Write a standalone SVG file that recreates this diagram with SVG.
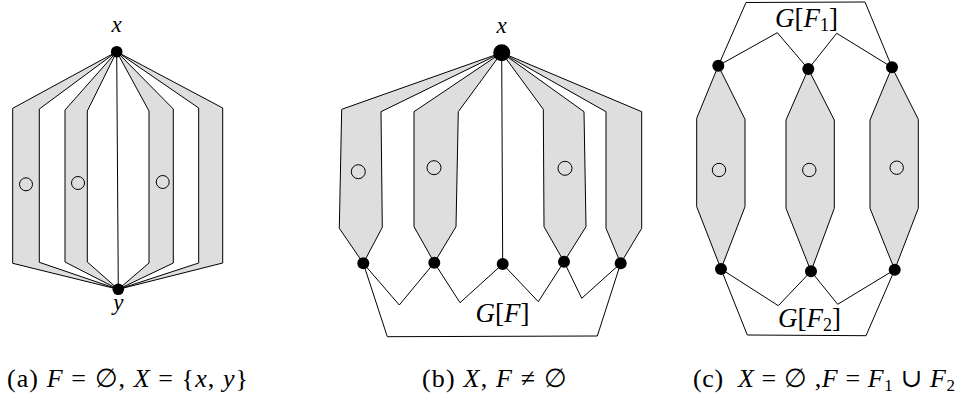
<svg xmlns="http://www.w3.org/2000/svg" width="969" height="402" viewBox="0 0 969 402">
<style>
.lobe{fill:#dedede;stroke:#000;stroke-width:1;stroke-linejoin:miter}
.ln{fill:none;stroke:#000;stroke-width:1}
.ring{fill:none;stroke:#000;stroke-width:1}
.dot{fill:#000}
.t{font-family:"Liberation Serif","DejaVu Serif",serif;fill:#000;white-space:pre}
.i{font-style:italic}
</style>
<rect width="969" height="402" fill="#fff"/>

<!-- Panel (a) -->
<g id="a-lobe1"><path class="lobe" d="M116.7,51.7 L12.7,108.3 L12.7,263.3 L118.3,289.3 L39.3,262.3 L39.3,109 Z"/><circle class="ring" cx="26" cy="184.3" r="6.5"/></g>
<g id="a-lobe2"><path class="lobe" d="M116.7,51.7 L65,110 L65,262 L118.3,289.3 L87.3,262 L87.3,111 Z"/><circle class="ring" cx="78" cy="183" r="6.5"/></g>
<g id="a-lobe3"><path class="lobe" d="M116.7,51.7 L149,111 L149,263 L118.3,289.3 L173.3,263 L173.3,109 Z"/><circle class="ring" cx="162.7" cy="182" r="6.5"/></g>
<g id="a-lobe4"><path class="lobe" d="M116.7,51.7 L198.7,108 L198.7,263 L118.3,289.3 L222.7,263 L222.7,108 Z"/></g>

<!-- Panel (b) -->
<g id="b-lobe1"><path class="lobe" d="M501.7,52.7 L341.7,109.3 L339.3,228.3 L363.3,263.3 L382.3,227.3 L381,111.7 Z"/><circle class="ring" cx="358.3" cy="171.7" r="7"/></g>
<g id="b-lobe2"><path class="lobe" d="M501.7,52.7 L414,111.7 L414,226.7 L434.3,262.7 L456,226.7 L458.3,111.7 Z"/><circle class="ring" cx="434" cy="167.7" r="7"/></g>
<g id="b-lobe3"><path class="lobe" d="M501.7,52.7 L543.3,109.3 L544,226.7 L564,261.7 L586,226.7 L584,111.7 Z"/><circle class="ring" cx="565" cy="168.3" r="7"/></g>
<g id="b-lobe4"><path class="lobe" d="M501.7,52.7 L606,111.7 L606,228.3 L620.7,263.3 L641.7,228.3 L641.7,111.7 Z"/></g>

<!-- Panel (c) -->
<g id="c-lobe1"><path class="lobe" d="M718.3,65.7 L696.7,118.3 L696.7,206.7 L721,269 L745,206.7 L745,119.3 Z"/><circle class="ring" cx="719" cy="170" r="6.7"/></g>
<g id="c-lobe2"><path class="lobe" d="M808.3,69 L786,120 L786,208.3 L811,271.3 L834.3,208.3 L834.3,120 Z"/><circle class="ring" cx="809.3" cy="170" r="6.7"/></g>
<g id="c-lobe3"><path class="lobe" d="M892,67.3 L870,120 L870,208.3 L894.7,269.7 L918.3,208.3 L918.3,119.3 Z"/><circle class="ring" cx="896.7" cy="167.7" r="6.7"/></g>

<g id="connectors">
<path class="ln" d="M116.7,51.7 L118.3,289.3"/>
<path class="ln" d="M501.7,52.7 L502.7,264"/>
<path class="ln" d="M363.3,263.3 L399.3,305 L434.3,262.7 L460,302.7 L502.7,264 L538.3,301.7 L564,261.7 L581.7,298.3 L620.7,263.3"/>
<path class="ln" d="M363.3,263.3 L387.3,336.7 L597.3,336 L620.7,263.3"/>
<path class="ln" d="M718.3,65.7 L777.3,32.7 L808.3,69 L836.7,33.3 L892,67.3"/>
<path class="ln" d="M718.3,65.7 L746,2.5 L865,2 L892,67.3"/>
<path class="ln" d="M721,269 L778.3,305.7 L811,271.3 L837.7,304.3 L894.7,269.7"/>
<path class="ln" d="M721,269 L747.3,335 L866,335.7 L894.7,269.7"/>
</g>

<g id="a-x"><circle class="dot" cx="116.7" cy="51.7" r="5.8"/><text class="t i" x="116.7" y="31.5" font-size="23" text-anchor="middle">x</text></g>
<g id="a-y"><circle class="dot" cx="118.3" cy="289.3" r="5.8"/><text class="t i" x="118.3" y="310" font-size="23" text-anchor="middle">y</text></g>

<g id="b-x"><circle class="dot" cx="501.7" cy="52.7" r="8.5"/><text class="t i" x="501.7" y="32.5" font-size="23" text-anchor="middle">x</text></g>
<g id="b-n1"><circle class="dot" cx="363.3" cy="263.3" r="6"/></g>
<g id="b-n2"><circle class="dot" cx="434.3" cy="262.7" r="6"/></g>
<g id="b-n3"><circle class="dot" cx="502.7" cy="264" r="6"/></g>
<g id="b-n4"><circle class="dot" cx="564" cy="261.7" r="6"/></g>
<g id="b-n5"><circle class="dot" cx="620.7" cy="263.3" r="6"/></g>
<g id="b-GF"><text class="t" x="502.5" y="322" font-size="27" text-anchor="middle"><tspan class="i">G</tspan>[<tspan class="i">F</tspan>]</text></g>

<g id="c-t1"><circle class="dot" cx="718.3" cy="65.7" r="6"/></g>
<g id="c-t2"><circle class="dot" cx="808.3" cy="69" r="6"/></g>
<g id="c-t3"><circle class="dot" cx="892" cy="67.3" r="6"/></g>
<g id="c-b1"><circle class="dot" cx="721" cy="269" r="6"/></g>
<g id="c-b2"><circle class="dot" cx="811" cy="271.3" r="6"/></g>
<g id="c-b3"><circle class="dot" cx="894.7" cy="269.7" r="6"/></g>
<g id="c-GF1"><text class="t" x="775" y="27" font-size="27"><tspan class="i">G</tspan>[<tspan class="i">F</tspan><tspan font-size="18" dy="4">1</tspan><tspan dy="-4">]</tspan></text></g>
<g id="c-GF2"><text class="t" x="778" y="327" font-size="27"><tspan class="i">G</tspan>[<tspan class="i">F</tspan><tspan font-size="18" dy="4">2</tspan><tspan dy="-4">]</tspan></text></g>

<g id="captions">
<text class="t" x="7" y="387" font-size="26" textLength="241" lengthAdjust="spacing">(a) <tspan class="i">F</tspan> = ∅, <tspan class="i">X</tspan> = {<tspan class="i">x</tspan>, <tspan class="i">y</tspan>}</text>
<text class="t" x="422" y="387" font-size="26" textLength="145" lengthAdjust="spacing">(b) <tspan class="i">X</tspan>, <tspan class="i">F</tspan> ≠ ∅</text>
<text class="t" x="693" y="387" font-size="26" textLength="262" lengthAdjust="spacing">(c)  <tspan class="i">X</tspan> = ∅ ,<tspan class="i">F</tspan> = <tspan class="i">F</tspan><tspan font-size="17" dy="4">1</tspan><tspan dy="-4"> ∪ </tspan><tspan class="i">F</tspan><tspan font-size="17" dy="4">2</tspan></text>
</g>
</svg>
